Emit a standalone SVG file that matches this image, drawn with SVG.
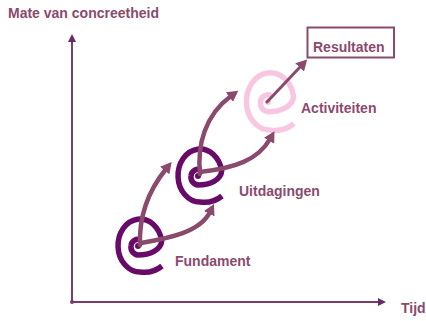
<svg xmlns="http://www.w3.org/2000/svg" width="426" height="321" viewBox="0 0 426 321">
<style>
text{font-family:"Liberation Sans",Arial,sans-serif;font-weight:bold;font-size:14px;fill:#8a4a6e}
.axis{stroke:#7a3a6a;stroke-width:2;fill:none}
.arr{stroke:#8a4a6e;stroke-width:4.5;fill:none;stroke-linecap:round}
.arr-thin{stroke:#8a4a6e;stroke-width:3;fill:none;stroke-linecap:round}
.dark{stroke:#680a68;fill:none;stroke-width:5.5}
.pink{stroke:#f8c6e0;fill:none;stroke-width:5}
.dotdark{fill:#680a68}
.dotpink{fill:#f8c6e0}
</style>
<defs>
<marker id="ah" markerUnits="userSpaceOnUse" markerWidth="12" markerHeight="12" refX="2" refY="6" orient="auto" viewBox="0 0 12 12">
<path d="M0,0 L11,6 L0,12 z" fill="#8a4a6e"/>
</marker>
<marker id="axh" markerUnits="userSpaceOnUse" markerWidth="9" markerHeight="8" refX="1" refY="4" orient="auto" viewBox="0 0 9 8">
<path d="M0,0 L8,4 L0,8 z" fill="#6a2a6a"/>
</marker>
<path id="spiral" d="M3,-6 A7,7 0 0 0 -7,0 A8,8 0 0 0 0,9 C12,9 23,4 23.7,-5.1 A22,26.5 0 1 0 2,26 A28,28 0 0 0 24,20"/>
</defs>
<rect width="426" height="321" fill="#ffffff"/>
<g id="axes">
<path class="axis" d="M72,302 L72,41" marker-end="url(#axh)"/>
<path class="axis" d="M72,302 L379,302" marker-end="url(#axh)"/>
<circle cx="72" cy="302" r="2" fill="#7a3a6a"/>
<text x="8" y="18">Mate van concreetheid</text>
<text x="401" y="313">Tijd</text>
</g>
<g id="fundament">
<use href="#spiral" class="dark" transform="translate(138,246)"/>
<circle class="dotdark" cx="138" cy="246" r="3"/>
<text x="175" y="266">Fundament</text>
</g>
<g id="uitdagingen">
<use href="#spiral" class="dark" transform="translate(198,176)"/>
<circle class="dotdark" cx="198" cy="176" r="3"/>
<text x="239" y="196">Uitdagingen</text>
</g>
<g id="activiteiten">
<use href="#spiral" class="pink" transform="translate(268,102) scale(1.08)"/>
<circle class="dotpink" cx="268" cy="102" r="3"/>
<text x="301" y="113">Activiteiten</text>
</g>
<g id="resultaten">
<rect x="307.5" y="27.5" width="86.5" height="30" fill="#ffffff" stroke="#8a4a6e" stroke-width="2"/>
<text x="313" y="52">Resultaten</text>
</g>
<g id="connectors">
<path class="arr" d="M140,245 C139,220 145,195 166,169" marker-end="url(#ah)"/>
<path class="arr" d="M141,243 C170,238 200,232 210,212" marker-end="url(#ah)"/>
<path class="arr" d="M200,174 C197,145 205,115 231,96" marker-end="url(#ah)"/>
<path class="arr" d="M200,172 C235,168 258,160 270,139" marker-end="url(#ah)"/>
<path class="arr-thin" d="M267,102 L301,66" marker-end="url(#ah)"/>
</g>
</svg>
